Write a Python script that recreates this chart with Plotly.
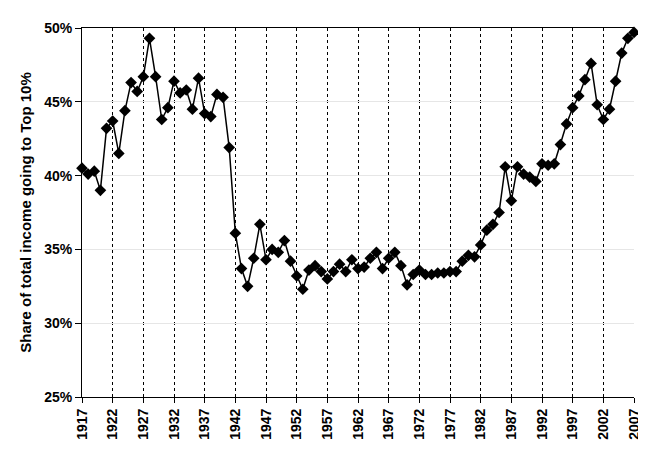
import plotly.graph_objects as go

years = list(range(1917, 2008))
top10_share = [
    40.5, 40.1, 40.3, 39.0, 43.2, 43.7, 41.5, 44.4, 46.3, 45.7,  # 1917-1926
    46.7, 49.3, 46.7, 43.8, 44.6, 46.4, 45.6, 45.8, 44.5, 46.6,  # 1927-1936
    44.2, 44.0, 45.5, 45.3, 41.9, 36.1, 33.7, 32.5, 34.4, 36.7,  # 1937-1946
    34.3, 35.0, 34.8, 35.6, 34.2, 33.2, 32.3, 33.6, 33.9, 33.5,  # 1947-1956
    33.0, 33.5, 34.0, 33.5, 34.3, 33.7, 33.8, 34.4, 34.8, 33.7,  # 1957-1966
    34.4, 34.8, 33.9, 32.6, 33.3, 33.6, 33.3, 33.3, 33.4, 33.4,  # 1967-1976
    33.5, 33.5, 34.2, 34.6, 34.5, 35.3, 36.3, 36.7, 37.5, 40.6,  # 1977-1986
    38.3, 40.6, 40.1, 39.9, 39.6, 40.8, 40.7, 40.8, 42.1, 43.5,  # 1987-1996
    44.6, 45.4, 46.5, 47.6, 44.8, 43.8, 44.5, 46.4, 48.3, 49.3,  # 1997-2006
    49.7,                                                        # 2007
]
x_ticks = list(range(1917, 2008, 5))
y_ticks = [25, 30, 35, 40, 45, 50]
y_labels = ["25%", "30%", "35%", "40%", "45%", "50%"]

fig = go.Figure()
fig.add_trace(go.Scatter(
    x=years, y=top10_share, mode="lines+markers",
    line=dict(color="black", width=1.5),
    marker=dict(symbol="diamond", size=9, color="black"),
    cliponaxis=False, showlegend=False,
))

font_family = "Liberation Sans, Arial, sans-serif"
fig.update_layout(
    width=646, height=449,
    margin=dict(l=74, r=12, t=20, b=60),
    paper_bgcolor="white", plot_bgcolor="white",
    font=dict(family=font_family, color="black"),
)
fig.update_xaxes(
    range=[1917, 2007], tickvals=x_ticks, ticktext=[str(t) for t in x_ticks],
    tickangle=-90, tickfont=dict(size=14, weight="bold", family=font_family),
    showgrid=True, gridcolor="black", griddash="dot", gridwidth=1,
    showline=True, linecolor="black", linewidth=1, mirror=True,
    ticks="outside", ticklen=5, tickcolor="black", zeroline=False,
)
fig.update_yaxes(
    range=[25, 50], tickvals=y_ticks, ticktext=y_labels,
    tickfont=dict(size=14, weight="bold", family=font_family),
    showgrid=True, gridcolor="#e6e6e6", gridwidth=1,
    showline=True, linecolor="black", linewidth=1,
    ticks="outside", ticklen=6, tickcolor="black", zeroline=False,
    title=dict(text="Share of total income going to Top 10%",
               font=dict(size=15, weight="bold", family=font_family), standoff=8),
)
fig.write_html("out.html")
